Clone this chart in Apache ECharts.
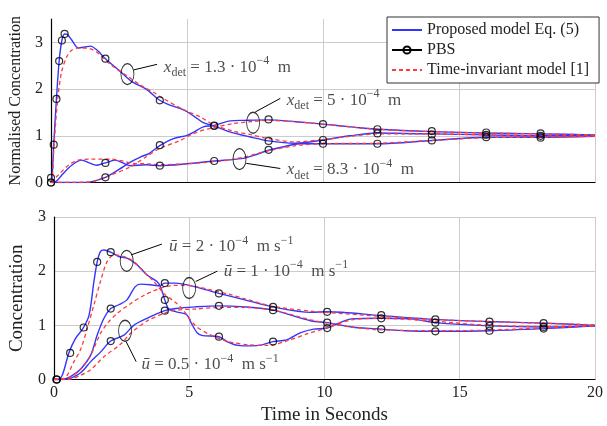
<!DOCTYPE html>
<html><head><meta charset="utf-8">
<script src="https://cdn.jsdelivr.net/npm/echarts@6/dist/echarts.min.js"></script>
<style>html,body{margin:0;padding:0;background:#fff}#c{width:607px;height:426px}</style>
</head><body><div id="c"></div><script>
// ---------- data (time in s, value) ----------
const xTicks = [0, 5, 10, 15, 20];
const topYTicks = [0, 1, 2, 3];
const botYTicks = [0, 1, 2, 3];

// Top panel: x_det = 1.3e-4 (A), 5e-4 (B), 8.3e-4 (C)
const topBlueA = [[0,0],[0.04,0.12],[0.1,0.81],[0.2,1.79],[0.3,2.6],[0.4,3.04],[0.5,3.18],[0.6,3.17],[0.75,3.06],[1.0,2.88],[1.25,2.9],[1.45,2.92],[1.7,2.83],[2.0,2.65],[2.5,2.4],[3.0,2.15],[3.5,2.0],[4.0,1.76],[4.4,1.65],[4.9,1.55],[5.25,1.42],[5.6,1.28],[6.0,1.21],[6.6,1.08],[7.3,0.98],[8.0,0.89],[9.0,0.84],[10,0.91],[11,1.0],[12,1.06],[13,1.05],[14,1.04],[16,1.02],[18,1.0],[20,1.0]];
const topRedA = [[0,0],[0.05,0.1],[0.12,0.87],[0.25,1.8],[0.39,2.37],[0.58,2.69],[0.76,2.83],[1.0,2.88],[1.4,2.87],[1.75,2.76],[2.2,2.52],[2.85,2.26],[3.3,2.08],[3.8,1.92],[4.0,1.84],[4.9,1.55],[5.5,1.4],[6.0,1.23],[6.7,1.1],[7.3,1.03],[8.0,0.94],[9.0,0.87],[10,0.92],[11,0.99],[12,1.04],[14,1.04],[16,1.02],[18,1.0],[20,1.0]];
const topPbsA = [[0,0.1],[0.1,0.81],[0.2,1.79],[0.3,2.6],[0.4,3.04],[0.5,3.18],[2,2.65],[4,1.76],[6,1.21],[8,0.89],[10,0.91],[12,1.05],[14,1.03],[16,1.02],[18,1.0]];

const topBlueB = [[0,0],[1.0,0],[1.5,0.02],[2.0,0.11],[2.5,0.28],[2.9,0.43],[3.3,0.55],[3.6,0.62],[4.0,0.79],[4.5,0.94],[5.0,1.01],[5.25,1.08],[5.6,1.19],[6.0,1.22],[6.6,1.32],[7.1,1.33],[8.0,1.34],[9.0,1.3],[10,1.25],[11.2,1.18],[12,1.14],[14,1.09],[16,1.06],[18,1.04],[20,1.02]];
const topRedB = [[0,0],[1.5,0.01],[1.7,0.05],[2.2,0.16],[2.9,0.33],[3.5,0.55],[4.0,0.73],[4.75,0.9],[5.25,1.05],[5.85,1.16],[6.7,1.26],[7.3,1.3],[8.0,1.33],[9,1.3],[10,1.25],[12,1.14],[14,1.09],[16,1.06],[18,1.04],[20,1.02]];
const topPbsB = [[0,0],[2,0.11],[4,0.8],[6,1.22],[8,1.35],[10,1.25],[12,1.14],[14,1.1],[16,1.07],[18,1.05]];

const topBlueC = [[0,0],[0.2,0.03],[0.4,0.16],[0.76,0.37],[1.13,0.48],[1.4,0.42],[1.68,0.37],[2.0,0.42],[2.35,0.48],[2.6,0.43],[2.9,0.36],[3.5,0.38],[4,0.36],[5,0.4],[6,0.46],[7,0.51],[7.45,0.58],[8,0.69],[8.5,0.76],[9.15,0.83],[10,0.83],[12,0.83],[14,0.9],[16,0.97],[18,0.97],[20,0.99]];
const topRedC = [[0,0],[0.27,0.16],[0.64,0.37],[1.0,0.48],[1.5,0.5],[2.2,0.5],[2.7,0.45],[3.0,0.41],[3.5,0.4],[4,0.38],[5,0.4],[5.7,0.43],[6.5,0.48],[7,0.53],[8,0.68],[9,0.79],[10,0.83],[12,0.84],[14,0.9],[16,0.96],[18,0.97],[20,0.99]];
const topPbsC = [[0,0],[2,0.42],[4,0.36],[6,0.46],[8,0.7],[10,0.83],[12,0.83],[14,0.9],[16,0.97],[18,0.96]];

// Bottom panel: u = 2e-4 (1), 1e-4 (2), 0.5e-4 (3)
const botBlue1 = [[0,0],[0.15,0],[0.31,0.08],[0.56,0.5],[0.8,0.76],[1.07,0.94],[1.3,1.19],[1.48,1.81],[1.6,2.17],[1.72,2.36],[1.85,2.39],[2.1,2.35],[2.4,2.27],[2.7,2.24],[3.07,2.12],[3.44,1.93],[3.81,1.81],[3.95,1.7],[4.1,1.47],[4.25,1.3],[4.6,1.24],[4.9,1.2],[5.1,1.02],[5.3,0.86],[5.5,0.81],[6.1,0.79],[6.4,0.7],[6.8,0.63],[7.3,0.62],[7.7,0.64],[8.1,0.7],[8.6,0.73],[9.1,0.86],[9.6,0.93],[10.1,0.95],[11,1.12],[12.1,1.13],[13.2,1.12],[14.1,1.05],[16.1,0.99],[18.1,0.97],[20,0.99]];
const botRed1 = [[0,0],[0.38,0.02],[0.74,0.33],[1.0,0.57],[1.23,0.94],[1.48,1.38],[1.72,1.81],[1.97,2.18],[2.22,2.3],[2.59,2.27],[2.95,2.18],[3.32,1.99],[3.69,1.81],[4.06,1.59],[4.5,1.42],[4.75,1.3],[5.22,1.0],[5.72,0.84],[6.45,0.7],[7.2,0.64],[7.93,0.63],[8.66,0.72],[9.4,0.85],[10.07,0.95],[11,1.1],[12,1.13],[14,1.08],[16,1.0],[18,0.98],[20,0.99]];
const botPbs1 = [[0.1,0],[0.6,0.49],[1.1,0.96],[1.6,2.17],[2.1,2.35],[4.1,1.47],[6.1,0.79],[8.1,0.7],[10.1,0.95],[12.1,1.13],[14.1,1.05],[16.1,0.99],[18.1,0.97]];

const botBlue2 = [[0,0],[0.4,0.01],[0.7,0.08],[1.0,0.2],[1.36,0.45],[1.6,0.82],[1.85,1.13],[2.1,1.31],[2.4,1.38],[2.7,1.47],[3.0,1.71],[3.2,1.76],[3.57,1.75],[3.9,1.73],[4.1,1.78],[4.5,1.78],[5.22,1.71],[6.1,1.59],[7.06,1.47],[8.1,1.34],[9.5,1.24],[10.1,1.25],[12.1,1.18],[14.1,1.11],[16.1,1.07],[18.1,1.04],[20,1.0]];
const botRed2 = [[0,0],[0.5,0.02],[1.0,0.2],[1.36,0.45],[1.72,0.85],[2.0,1.05],[2.34,1.22],[2.83,1.4],[3.32,1.55],[3.81,1.66],[4.3,1.73],[4.8,1.74],[5.3,1.71],[5.84,1.65],[6.5,1.57],[7.06,1.49],[8.1,1.35],[9.5,1.26],[10,1.24],[12,1.17],[14,1.11],[16,1.07],[18,1.04],[20,1.01]];
const botPbs2 = [[0.1,0],[2.1,1.31],[4.1,1.78],[6.1,1.59],[8.1,1.34],[10.1,1.25],[12.1,1.19],[14.1,1.11],[16.1,1.07],[18.1,1.04]];

const botBlue3 = [[0,0],[0.5,0.01],[1.0,0.13],[1.36,0.33],[1.73,0.51],[2.1,0.71],[2.59,0.82],[2.95,1.0],[3.44,1.13],[4.1,1.27],[4.5,1.31],[5.22,1.34],[6.1,1.36],[7.06,1.34],[8.1,1.28],[9.52,1.08],[10.1,1.05],[11,0.97],[12.1,0.93],[13,0.9],[14.1,0.89],[16.1,0.9],[18.1,0.94],[20,0.99]];
const botRed3 = [[0,0],[0.5,0],[1.0,0.08],[1.36,0.18],[1.85,0.42],[2.46,0.65],[2.83,0.85],[3.44,1.08],[4.06,1.22],[4.5,1.28],[5.2,1.3],[6.1,1.33],[7.06,1.33],[8.1,1.28],[9.5,1.1],[10.1,1.04],[11,0.97],[12,0.92],[14,0.9],[16,0.91],[18,0.95],[20,0.99]];
const botPbs3 = [[0.1,0],[2.1,0.71],[4.1,1.27],[6.1,1.36],[8.1,1.28],[10.1,1.05],[12.1,0.93],[14.1,0.89],[16.1,0.9],[18.1,0.94]];

const seriesNames = ['Proposed model Eq. (5)', 'PBS', 'Time-invariant model [1]'];

// annotations (data coordinates): ellipse centre, leader start/end, text anchor, rich text
const annotations = [
  {g:0, ell:[2.81,2.32], lead:[[3.04,2.41],[3.9,2.53]], txt:[4.13,2.47], label:'{i|x}{sub|det}{n| = 1.3 · 10}{sup|−4}{n|  m}'},
  {g:0, ell:[7.43,1.28], lead:[[7.51,1.51],[8.43,1.8]], txt:[8.65,1.76], label:'{i|x}{sub|det}{n| = 5 · 10}{sup|−4}{n|  m}'},
  {g:0, ell:[6.93,0.5], lead:[[7.18,0.41],[8.43,0.3]], txt:[8.65,0.27], label:'{i|x}{sub|det}{n| = 8.3 · 10}{sup|−4}{n|  m}'},
  {g:1, ell:[2.69,2.19], lead:[[2.85,2.3],[3.99,2.5]], txt:[4.24,2.45], label:'{i|ū}{n| = 2 · 10}{sup|−4}{n|  m s}{sup|−1}'},
  {g:1, ell:[5.0,1.69], lead:[[5.24,1.81],[6.04,2.0]], txt:[6.26,2.0], label:'{i|ū}{n| = 1 · 10}{sup|−4}{n|  m s}{sup|−1}'},
  {g:1, ell:[2.63,0.9], lead:[[2.67,0.7],[3.04,0.33]], txt:[3.22,0.27], label:'{i|ū}{n| = 0.5 · 10}{sup|−4}{n|  m s}{sup|−1}'}
];

// ---------- styling ----------
const F = 'Liberation Serif';
const BLUE = '#3434ff';
const RED = '#ff3a3a';
const GRIDC = '#cccccc';
const CLEAR = 'rgba(255,255,255,0)';

function blueS(data, g) {
  return {type:'line', name:seriesNames[0], xAxisIndex:g, yAxisIndex:g, data:data,
    symbol:'none', showSymbol:false, smooth:0.3, z:2,
    lineStyle:{color:BLUE, width:1.4}, itemStyle:{color:BLUE}};
}
function redS(data, g) {
  return {type:'line', name:seriesNames[2], xAxisIndex:g, yAxisIndex:g, data:data,
    symbol:'none', showSymbol:false, smooth:0.3, z:3,
    lineStyle:{color:RED, width:1.3, type:[4,3]}, itemStyle:{color:RED}};
}
function pbsS(data, g) {
  return {type:'scatter', name:seriesNames[1], xAxisIndex:g, yAxisIndex:g, data:data,
    symbol:'circle', symbolSize:7, z:4,
    itemStyle:{color:CLEAR, borderColor:'#000', borderWidth:1.2}};
}

const rich = {
  i:{fontFamily:F, fontStyle:'italic', fontSize:17, lineHeight:24, color:'#222'},
  n:{fontFamily:F, fontSize:17, lineHeight:24, color:'#222'},
  sub:{fontFamily:F, fontSize:12, lineHeight:13, verticalAlign:'bottom', color:'#222'},
  sup:{fontFamily:F, fontSize:12, lineHeight:13, verticalAlign:'top', color:'#222'}
};

const series = [
  blueS(topBlueA,0), blueS(topBlueB,0), blueS(topBlueC,0),
  redS(topRedA,0), redS(topRedB,0), redS(topRedC,0),
  // legend carrier for PBS (no data): black line with an open circle
  {type:'line', name:seriesNames[1], xAxisIndex:0, yAxisIndex:0, data:[], symbol:'circle', symbolSize:7,
    lineStyle:{color:'#000', width:1.2}, itemStyle:{color:CLEAR, borderColor:'#000', borderWidth:1.2}},
  pbsS(topPbsA,0), pbsS(topPbsB,0), pbsS(topPbsC,0),
  blueS(botBlue1,1), blueS(botBlue2,1), blueS(botBlue3,1),
  redS(botRed1,1), redS(botRed2,1), redS(botRed3,1),
  pbsS(botPbs1,1), pbsS(botPbs2,1), pbsS(botPbs3,1)
];

annotations.forEach(function(a){
  series.push({type:'scatter', xAxisIndex:a.g, yAxisIndex:a.g, data:[a.ell], symbol:'circle',
    symbolSize:[13,21], z:5, silent:true,
    itemStyle:{color:CLEAR, borderColor:'#000', borderWidth:1.1}});
  series.push({type:'line', xAxisIndex:a.g, yAxisIndex:a.g, data:a.lead, symbol:'none', z:5, silent:true,
    lineStyle:{color:'#000', width:1}});
  series.push({type:'scatter', xAxisIndex:a.g, yAxisIndex:a.g, data:[a.txt], symbol:'circle', symbolSize:1, z:6, silent:true,
    itemStyle:{color:CLEAR},
    label:{show:true, position:'right', distance:0, formatter:a.label, rich:rich,
      fontFamily:F, fontSize:17, lineHeight:24, color:'#222'}});
});

function xAxis(g, showLabels) {
  return {type:'value', gridIndex:g, min:xTicks[0], max:xTicks[xTicks.length-1], interval:xTicks[1]-xTicks[0],
    axisLine:{onZero:false, lineStyle:{color:'#000', width:1.2}}, axisTick:{show:false},
    axisLabel:{show:showLabels, color:'#222', fontFamily:F, fontSize:16, margin:5},
    splitLine:{show:true, lineStyle:{color:GRIDC, width:1}},
    name: showLabels ? 'Time in Seconds' : '', nameLocation:'middle', nameGap:26,
    nameTextStyle:{color:'#222', fontFamily:F, fontSize:19}};
}
function yAxis(g, ticks, max, name, nameSize, nameGap) {
  return {type:'value', gridIndex:g, min:ticks[0], max:max, interval:ticks[1]-ticks[0],
    axisLine:{show:true, onZero:false, lineStyle:{color:'#000', width:1.2}}, axisTick:{show:false},
    axisLabel:{color:'#222', fontFamily:F, fontSize:16, margin:8, showMaxLabel: max === ticks[ticks.length-1]},
    splitLine:{show:true, showMaxLine: max === ticks[ticks.length-1], lineStyle:{color:GRIDC, width:1}},
    name:name, nameLocation:'middle', nameGap:nameGap,
    nameTextStyle:{color:'#222', fontFamily:F, fontSize:nameSize}};
}

const chart = echarts.init(document.getElementById('c'), null, {renderer:'canvas'});
chart.setOption({
  animation:false,
  backgroundColor:'#fff',
  grid:[
    {left:51, right:12, top:19, height:163.5},
    {left:51, right:12, top:217, height:162.5}
  ],
  xAxis:[xAxis(0,false), xAxis(1,true)],
  yAxis:[
    yAxis(0, topYTicks, 3.5, 'Normalised Concentration', 16, 27),
    yAxis(1, botYTicks, 3, 'Concentration', 19, 26)
  ],
  legend:{
    show:true, orient:'vertical', left:387, top:17,
    backgroundColor:'#fff', borderColor:'#333', borderWidth:1,
    padding:[5,10,5,4], itemGap:4, itemWidth:30, itemHeight:9,
    textStyle:{fontFamily:F, fontSize:16, color:'#222', lineHeight:16},
    data:[
      {name:seriesNames[0], itemStyle:{color:CLEAR, borderColor:CLEAR, borderWidth:0}},
      {name:seriesNames[1]},
      {name:seriesNames[2], itemStyle:{color:CLEAR, borderColor:CLEAR, borderWidth:0}}
    ]
  },
  series:series
});
</script></body></html>
